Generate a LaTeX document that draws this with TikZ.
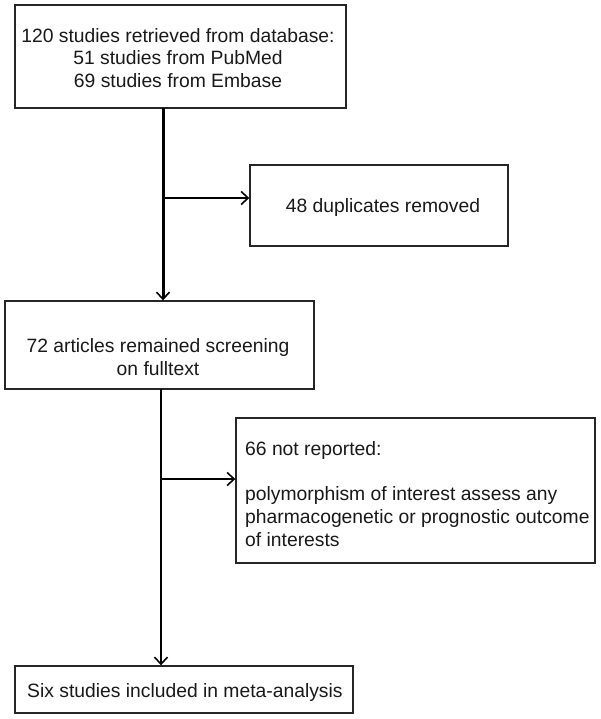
\documentclass[tikz,border=0pt]{standalone}
\usepackage{fontspec}
\setmainfont{Liberation Sans}
\usetikzlibrary{arrows.meta}
\tikzset{
  box/.style={draw=black!85, line width=1.4pt, rectangle, inner sep=0pt},
  txt/.style={font=\fontsize{19.3}{22.8}\selectfont, inner sep=0pt, text=black!90},
  tip/.style={-{Straight Barb[length=7pt,width=13pt,line width=1.6pt]}},
}
\begin{document}
\begin{tikzpicture}[x=1pt,y=-1pt]
\useasboundingbox (0,0) rectangle (600,719);
% boxes
\node[box, minimum width=331pt, minimum height=103pt] (b1) at (180.5,56.5) {};
\node[box, minimum width=258pt, minimum height=81pt] (b2) at (379,205.5) {};
\node[box, minimum width=309pt, minimum height=88pt] (b3) at (159.5,345) {};
\node[box, minimum width=359pt, minimum height=145pt] (b4) at (415.5,490.5) {};
\node[box, minimum width=338pt, minimum height=47pt] (b5) at (184,689.5) {};
% texts
\node[txt, align=center] (t1) at (178,58) {120 studies retrieved from database:\\51 studies from PubMed\\69 studies from Embase};
\node[txt] (t2) at (383,208) {48 duplicates removed};
\node[txt, align=center] (t3) at (158,357) {72 articles remained screening\\on fulltext};
\node[txt, align=left, anchor=west] (t4) at (245,494) {66 not reported:\\[22.8pt]polymorphism of interest assess any\\pharmacogenetic or prognostic outcome\\of interests};
\node[txt, anchor=west] (t5) at (27,693) {Six studies included in meta-analysis};
% connectors
\coordinate (s1) at (163,108);
\coordinate (j1) at (163,198);
\coordinate (s2) at (161,389);
\coordinate (j2) at (161,479);
\draw[line width=3pt, tip] (s1) -- (s1 |- b3.north);
\draw[line width=2pt, tip] (j1) -- (j1 -| b2.west);
\draw[line width=1.5pt, tip] (s2) -- (s2 |- b5.north);
\draw[line width=1.8pt, tip] (j2) -- (j2 -| b4.west);
\end{tikzpicture}
\end{document}
